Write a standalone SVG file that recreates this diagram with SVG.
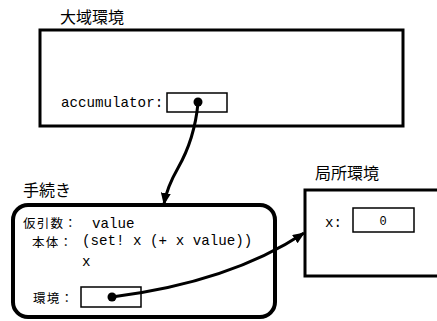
<svg xmlns="http://www.w3.org/2000/svg" width="437" height="321" viewBox="0 0 437 321">
<style>
.frame{fill:none;stroke:#000;stroke-width:3}
.slot{fill:#fff;stroke:#000;stroke-width:1.5}
.jp{font-family:"Noto Sans CJK JP","Noto Sans CJK SC",sans-serif;fill:#000}
.t16{font-size:16px}
.t13{font-size:12.5px;letter-spacing:1.2px}
.mono{font-family:"Liberation Mono","DejaVu Sans Mono",monospace;font-size:14.2px;fill:#000}
.wire{fill:none;stroke:#000;stroke-width:3}
</style>
<defs>
<marker id="ah" viewBox="0 0 12 10" refX="11" refY="5" markerWidth="12" markerHeight="10" markerUnits="userSpaceOnUse" orient="auto">
<path d="M0,0 L12,5 L0,10 Z" fill="#000"/>
</marker>
</defs>
<rect width="437" height="321" fill="#fff"/>
<g id="global-env">
<text class="jp t16" x="60" y="23">大域環境</text>
<rect class="frame" x="40" y="30" width="363" height="96"/>
<text class="mono" x="61" y="107">accumulator:</text>
<rect class="slot" x="167" y="93" width="60" height="19"/>
<circle cx="198" cy="102" r="4.5" fill="#000"/>
</g>
<g id="procedure">
<text class="jp t16" x="23" y="196">手続き</text>
<rect class="frame" x="13" y="205" width="262" height="112" rx="15" ry="15" style="stroke-width:4"/>
<text class="jp t13" x="23" y="228">仮引数：</text>
<text class="mono" x="92" y="228">value</text>
<text class="jp t13" x="32" y="247">本体：</text>
<text class="mono" x="82" y="245">(set! x (+ x value))</text>
<text class="mono" x="82" y="266">x</text>
<text class="jp t13" x="33" y="303">環境：</text>
<rect class="slot" x="81" y="287" width="60" height="20"/>
<circle cx="112" cy="297" r="4.5" fill="#000"/>
</g>
<g id="local-env">
<text class="jp t16" x="315" y="179">局所環境</text>
<rect class="frame" x="305" y="190" width="140" height="86"/>
<text class="mono" x="325" y="227">x:</text>
<rect class="slot" x="353" y="208" width="61" height="24"/>
<text class="mono" x="383" y="225" text-anchor="middle" style="font-size:12px">0</text>
</g>
<g id="connectors">
<path class="wire" d="M198,103 C195,135 186,154 178,168 C170,182 166,192 164,204" marker-end="url(#ah)"/>
<path class="wire" d="M112,297 Q230,282 304,233" marker-end="url(#ah)"/>
</g>
</svg>
